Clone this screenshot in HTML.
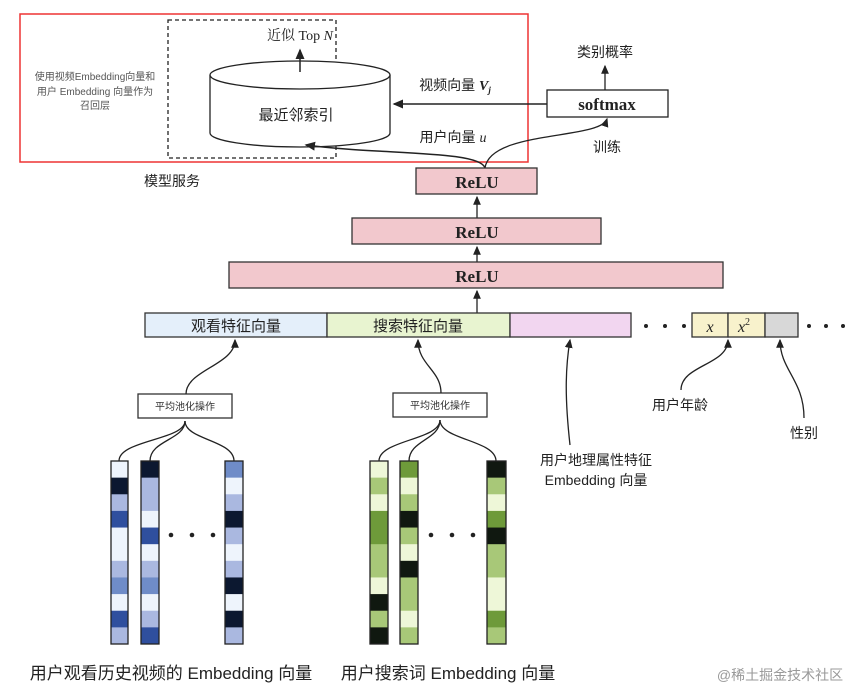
<!DOCTYPE html>
<html><head><meta charset="utf-8"><style>
html,body{margin:0;padding:0;background:#fff;}
svg{display:block;font-family:"Liberation Sans","Noto Sans CJK SC",sans-serif;}
</style></head><body>
<svg id="s" width="866" height="691" viewBox="0 0 866 691" xmlns="http://www.w3.org/2000/svg">
<defs><marker id="a" markerWidth="8" markerHeight="8" refX="6" refY="4" orient="auto"><path d="M0,1 L7,4 L0,7 z" fill="#222"/></marker></defs>
<rect x="20" y="14" width="508" height="148" fill="none" stroke="#e33" stroke-width="1.5"/>
<rect x="168" y="20" width="168" height="138" fill="none" stroke="#222" stroke-width="1.3" stroke-dasharray="4,3"/>
<text x="95" y="80" font-size="10" fill="#555" text-anchor="middle">使用视频Embedding向量和</text>
<text x="95" y="95" font-size="10" fill="#555" text-anchor="middle">用户 Embedding 向量作为</text>
<text x="95" y="109" font-size="10" fill="#555" text-anchor="middle">召回层</text>
<text x="172" y="186" font-size="14" fill="#222" text-anchor="middle">模型服务</text>
<path d="M210,75 L210,133 A90,14 0 0 0 390,133 L390,75" fill="#fff" stroke="#222" stroke-width="1.3"/>
<ellipse cx="300" cy="75" rx="90" ry="14" fill="#fff" stroke="#222" stroke-width="1.3"/>
<text x="296" y="120" font-size="15" fill="#222" text-anchor="middle">最近邻索引</text>
<line x1="300" y1="72" x2="300" y2="50" stroke="#222" stroke-width="1.5" marker-end="url(#a)"/>
<text x="300" y="40" font-size="14" fill="#222" text-anchor="middle" font-family="Liberation Serif,Noto Serif CJK SC,serif">近似 Top <tspan font-style="italic">N</tspan></text>
<rect x="547" y="90" width="121" height="27" fill="#fff" stroke="#222" stroke-width="1.3"/>
<text x="607" y="110" font-size="17" font-weight="bold" fill="#222" text-anchor="middle" font-family="Liberation Serif,serif">softmax</text>
<line x1="605" y1="90" x2="605" y2="66" stroke="#222" stroke-width="1.3" marker-end="url(#a)"/>
<text x="605" y="57" font-size="14" fill="#222" text-anchor="middle">类别概率</text>
<line x1="547" y1="104" x2="394" y2="104" stroke="#222" stroke-width="1.5" marker-end="url(#a)"/>
<text x="455" y="90" font-size="14" fill="#222" text-anchor="middle">视频向量 <tspan font-style="italic" font-family="Liberation Serif,serif" font-weight="bold">V<tspan font-size="9" dy="3">j</tspan></tspan></text>
<text x="453" y="142" font-size="14" fill="#222" text-anchor="middle">用户向量 <tspan font-style="italic" font-family="Liberation Serif,serif">u</tspan></text>
<text x="607" y="152" font-size="14" fill="#222" text-anchor="middle">训练</text>
<path d="M485,168 C480,150 380,155 306,145" fill="none" stroke="#222" stroke-width="1.5" marker-end="url(#a)"/>
<path d="M485,168 C490,130 600,140 607,119" fill="none" stroke="#222" stroke-width="1.3" marker-end="url(#a)"/>
<rect x="416" y="168" width="121" height="26" fill="#f2c8cd" stroke="#333" stroke-width="1.3"/>
<text x="477" y="188" font-size="17" font-weight="bold" fill="#222" text-anchor="middle" font-family="Liberation Serif,serif">ReLU</text>
<line x1="477" y1="218" x2="477" y2="197" stroke="#222" stroke-width="1.3" marker-end="url(#a)"/>
<rect x="352" y="218" width="249" height="26" fill="#f2c8cd" stroke="#333" stroke-width="1.3"/>
<text x="477" y="238" font-size="17" font-weight="bold" fill="#222" text-anchor="middle" font-family="Liberation Serif,serif">ReLU</text>
<line x1="477" y1="262" x2="477" y2="247" stroke="#222" stroke-width="1.3" marker-end="url(#a)"/>
<rect x="229" y="262" width="494" height="26" fill="#f2c8cd" stroke="#333" stroke-width="1.3"/>
<text x="477" y="282" font-size="17" font-weight="bold" fill="#222" text-anchor="middle" font-family="Liberation Serif,serif">ReLU</text>
<line x1="477" y1="313" x2="477" y2="291" stroke="#222" stroke-width="1.3" marker-end="url(#a)"/>
<rect x="145" y="313" width="182" height="24" fill="#e4effa" stroke="#333" stroke-width="1.3"/>
<rect x="327" y="313" width="183" height="24" fill="#e8f4d0" stroke="#333" stroke-width="1.3"/>
<rect x="510" y="313" width="121" height="24" fill="#f2d6f0" stroke="#333" stroke-width="1.3"/>
<text x="236" y="331" font-size="15" fill="#222" text-anchor="middle">观看特征向量</text>
<text x="418" y="331" font-size="15" fill="#222" text-anchor="middle">搜索特征向量</text>
<g fill="#222"><circle cx="646" cy="326" r="2"/><circle cx="665" cy="326" r="2"/><circle cx="684" cy="326" r="2"/><circle cx="809" cy="326" r="2"/><circle cx="826" cy="326" r="2"/><circle cx="843" cy="326" r="2"/></g>
<rect x="692" y="313" width="36" height="24" fill="#f8f2cc" stroke="#333" stroke-width="1.3"/>
<rect x="728" y="313" width="37" height="24" fill="#f8f2cc" stroke="#333" stroke-width="1.3"/>
<rect x="765" y="313" width="33" height="24" fill="#d8d8d8" stroke="#333" stroke-width="1.3"/>
<text x="710" y="332" font-size="16" font-style="italic" fill="#222" text-anchor="middle" font-family="Liberation Serif,serif">x</text>
<text x="744" y="332" font-size="16" font-style="italic" fill="#222" text-anchor="middle" font-family="Liberation Serif,serif">x<tspan font-size="10" dy="-7" font-style="normal">2</tspan></text>
<path d="M570,445 C565,400 565,370 570,340" fill="none" stroke="#222" stroke-width="1.3" marker-end="url(#a)"/>
<text x="596" y="465" font-size="14" fill="#222" text-anchor="middle">用户地理属性特征</text>
<text x="596" y="485" font-size="14" fill="#222" text-anchor="middle">Embedding 向量</text>
<path d="M681,390 C681,365 728,365 728,340" fill="none" stroke="#222" stroke-width="1.3" marker-end="url(#a)"/>
<text x="680" y="410" font-size="14" fill="#222" text-anchor="middle">用户年龄</text>
<path d="M804,418 C804,380 780,370 780,340" fill="none" stroke="#222" stroke-width="1.3" marker-end="url(#a)"/>
<text x="804" y="438" font-size="14" fill="#222" text-anchor="middle">性别</text>
<rect x="138" y="394" width="94" height="24" fill="#fff" stroke="#333" stroke-width="1.3"/>
<text x="185" y="410" font-size="10" fill="#333" text-anchor="middle">平均池化操作</text>
<rect x="393" y="393" width="94" height="24" fill="#fff" stroke="#333" stroke-width="1.3"/>
<text x="440" y="409" font-size="10" fill="#333" text-anchor="middle">平均池化操作</text>
<path d="M186,394 C186,370 235,365 235,340" fill="none" stroke="#222" stroke-width="1.3" marker-end="url(#a)"/>
<path d="M441,393 C441,370 418,365 418,340" fill="none" stroke="#222" stroke-width="1.3" marker-end="url(#a)"/>
<g fill="none" stroke="#222" stroke-width="1.3">
<path d="M119,461 C119,440 185,440 185,421"/><path d="M150,461 C150,440 185,440 185,421"/><path d="M234,461 C234,440 185,440 185,421"/>
<path d="M379,461 C379,440 440,440 440,420"/><path d="M409,461 C409,440 440,440 440,420"/><path d="M496,461 C496,440 440,440 440,420"/>
</g>
<g id="bars"></g>
<g fill="#222"><circle cx="171" cy="535" r="2.3"/><circle cx="192" cy="535" r="2.3"/><circle cx="213" cy="535" r="2.3"/><circle cx="431" cy="535" r="2.3"/><circle cx="452" cy="535" r="2.3"/><circle cx="473" cy="535" r="2.3"/></g>
<text x="171" y="679" font-size="17" fill="#222" text-anchor="middle">用户观看历史视频的 Embedding 向量</text>
<text x="448" y="679" font-size="17" fill="#222" text-anchor="middle">用户搜索词 Embedding 向量</text>
<text x="780" y="680" font-size="14" fill="#999" text-anchor="middle">@稀土掘金技术社区</text>
</svg>
<script>
var B={L:"#eef4fc",M:"#aab8e0",N:"#6f8cc8",D:"#2f4f9e",K:"#0c1830"};
var G={L:"#eef7d8",M:"#a8c878",D:"#6e9a3a",K:"#101810"};
var cols=[[111,17,B,"LKMDLLMNLDM"],[141,18,B,"KMMLDLMNLMD"],[225,18,B,"NLMKMLMKLKM"],
[370,18,G,"LMLDDMMLKMK"],[400,18,G,"DLMKMLKMMLM"],[487,19,G,"KMLDKMMLLDM"]];
var s="",y0=461,h=183,n=11;
cols.forEach(function(c){for(var i=0;i<n;i++){s+='<rect x="'+c[0]+'" y="'+(y0+i*h/n)+'" width="'+c[1]+'" height="'+(h/n+0.5)+'" fill="'+c[2][c[3][i]]+'"/>';}
s+='<rect x="'+c[0]+'" y="'+y0+'" width="'+c[1]+'" height="'+h+'" fill="none" stroke="#222" stroke-width="1.3"/>';});
document.getElementById("bars").innerHTML=s;
</script>
</body></html>
